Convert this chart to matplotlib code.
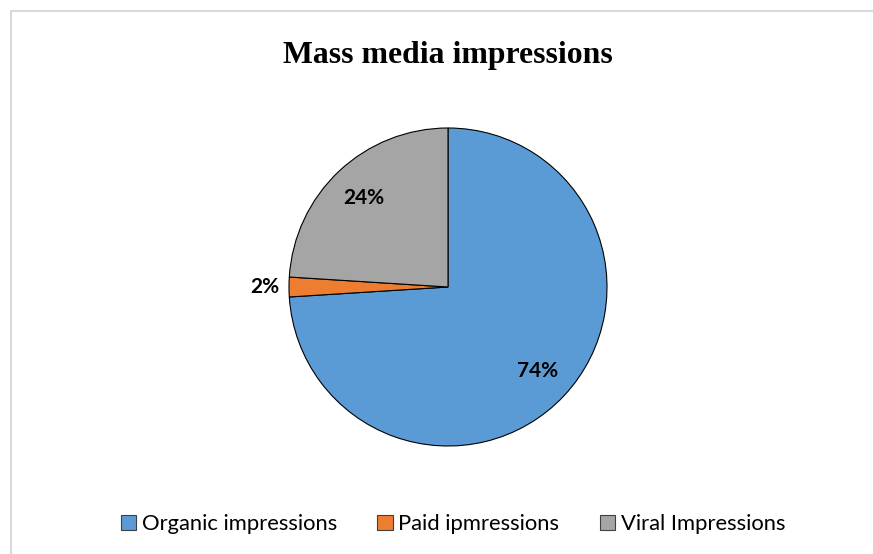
import matplotlib
matplotlib.use("Agg")
import matplotlib.pyplot as plt
from matplotlib.patches import Rectangle, Patch
import numpy as np

categories = ["Organic impressions", "Paid ipmressions", "Viral Impressions"]
values = [74, 2, 24]
pct_labels = ["74%", "2%", "24%"]
colors = ["#5B9BD5", "#ED7D31", "#A5A5A5"]
title = "Mass media impressions"

W, H = 873, 554
fig = plt.figure(figsize=(W / 100, H / 100), dpi=100)

# chart border (light gray, cut at right/bottom)
fig.patches.append(Rectangle((11 / W, -0.1), 1.2, 1 - 11 / H + 0.1,
                             transform=fig.transFigure, fill=False,
                             edgecolor="#D9D9D9", linewidth=1.5))

cx, cy, r = 448, 287, 159
ax = fig.add_axes([(cx - r) / W, (H - cy - r) / H, 2 * r / W, 2 * r / H])
wedges, _ = ax.pie(values, colors=colors, startangle=90, counterclock=False,
                   wedgeprops=dict(edgecolor="black", linewidth=0.8), radius=1)
ax.set_xlim(-1, 1)
ax.set_ylim(-1, 1)
ax.set_aspect("equal")
ax.axis("off")

label_font = dict(family=["Lato", "DejaVu Sans"], fontsize=15, fontweight="bold", color="#000000")
dists = [0.77, 1.15, 0.77]
for w, lab, d in zip(wedges, pct_labels, dists):
    ang = np.deg2rad((w.theta1 + w.theta2) / 2)
    ax.text(d * np.cos(ang), d * np.sin(ang), lab, ha="center", va="center", **label_font)

fig.text(448 / W, 1 - 55 / H, title, ha="center", va="center",
         family=["Liberation Serif"], fontsize=22.9, fontweight="bold")

handles = [Patch(facecolor=c, edgecolor="#404040", linewidth=0.8) for c in colors]
fig.legend(handles, categories, loc="center", bbox_to_anchor=(453 / W, 1 - 524 / H),
           ncol=3, frameon=False, handlelength=0.7, handleheight=0.7,
           handletextpad=0.25, columnspacing=1.85,
           prop=dict(family=["Lato", "DejaVu Sans"], size=15.8))

fig.savefig("out.png", dpi=100)
